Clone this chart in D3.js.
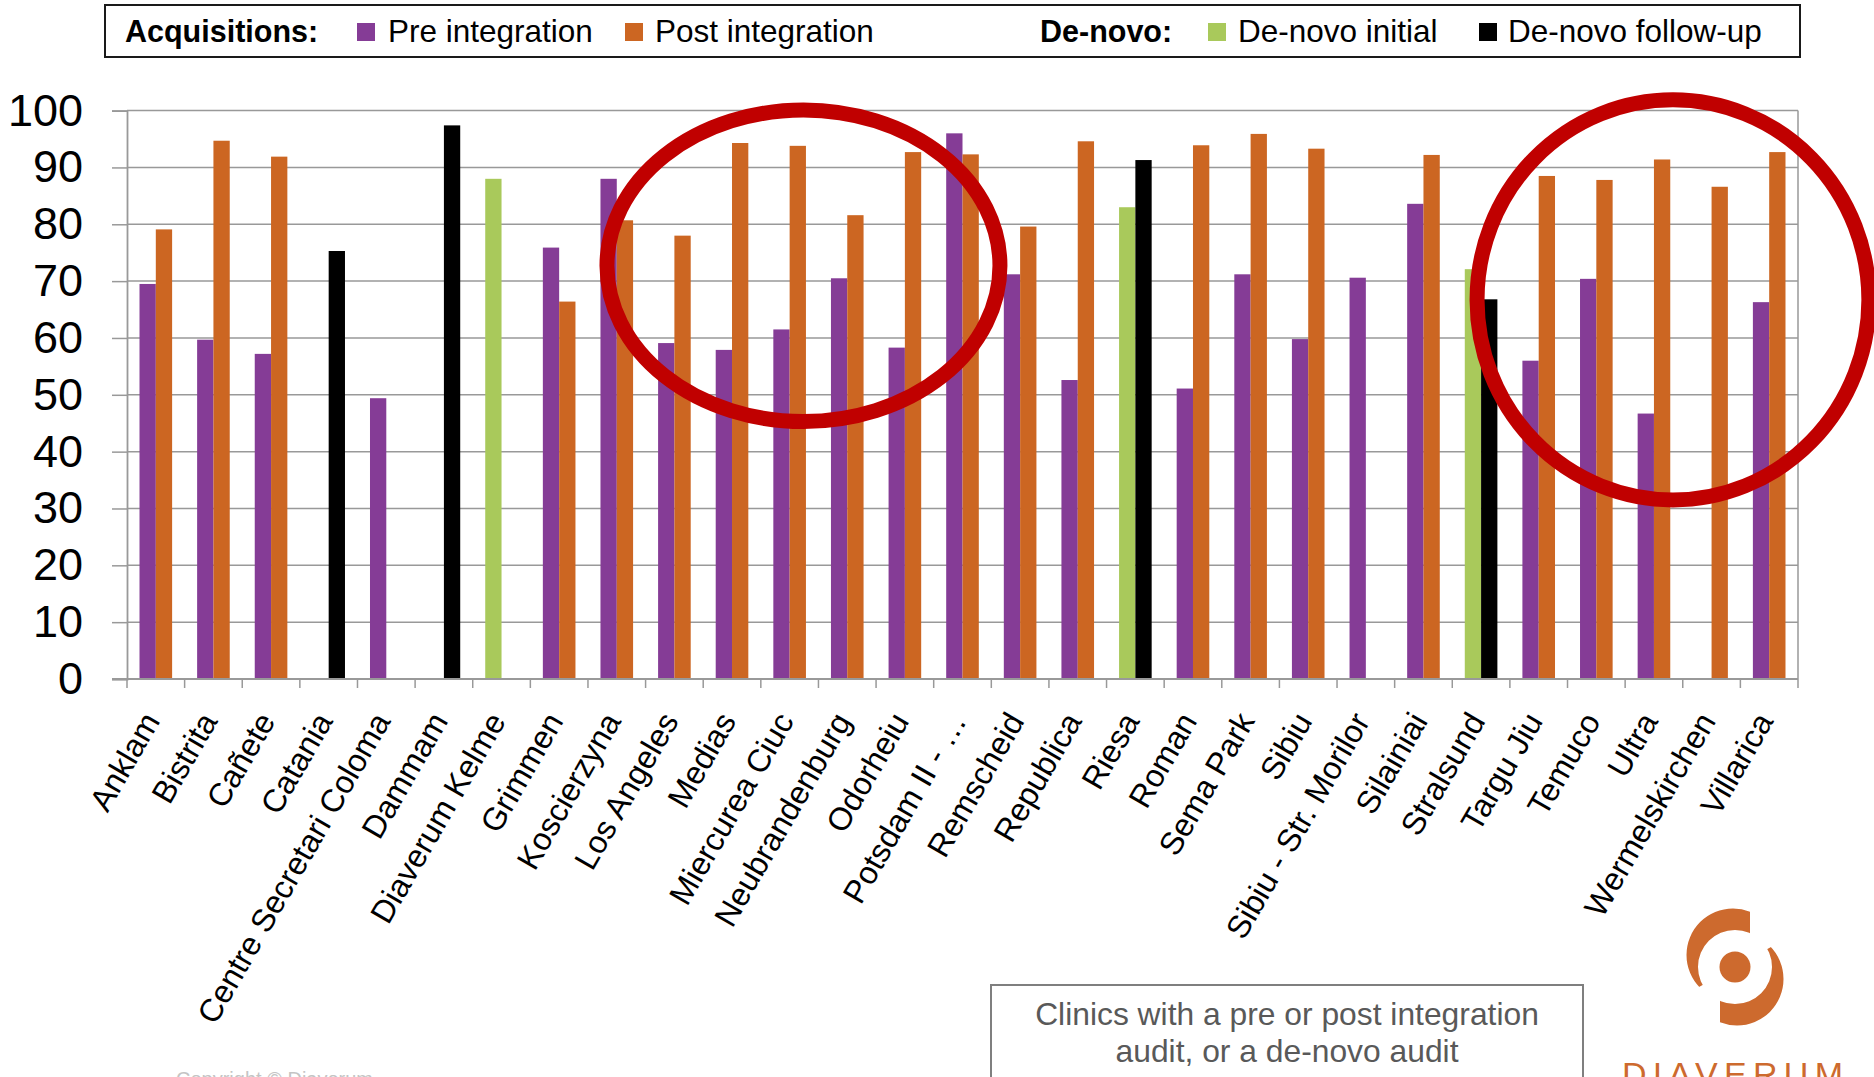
<!DOCTYPE html>
<html>
<head>
<meta charset="utf-8">
<script src="https://cdn.jsdelivr.net/npm/d3@7"></script>
<style>
  html, body { margin: 0; padding: 0; background: #fff; }
  svg { display: block; }
  text { font-family: "Liberation Sans", Arial, "Helvetica", sans-serif; }
</style>
</head>
<body>
<svg id="chart" width="1874" height="1077"></svg>
<script>
// Audit scores per clinic
const categories = [
  "Anklam", "Bistrita", "Cañete", "Catania", "Centre Secretari Coloma", "Dammam",
  "Diaverum Kelme", "Grimmen", "Koscierzyna", "Los Angeles", "Medias", "Miercurea Ciuc",
  "Neubrandenburg", "Odorheiu", "Potsdam II - …", "Remscheid", "Republica", "Riesa",
  "Roman", "Sema Park", "Sibiu", "Sibiu - Str. Morilor", "Silainiai", "Stralsund",
  "Targu Jiu", "Temuco", "Ultra", "Wermelskirchen", "Villarica"
];

const preIntegration = [
  69.5, 59.7, 57.2, null, 49.4, null,
  null, 75.9, 88.0, 59.1, 57.9, 61.5,
  70.5, 58.3, 96.0, 71.2, 52.6, null,
  51.1, 71.2, 59.8, 70.6, 83.6, null,
  56.0, 70.4, 46.7, null, 66.3
];

const postIntegration = [
  79.1, 94.7, 91.9, null, null, null,
  null, 66.4, 80.7, 78.0, 94.3, 93.8,
  81.6, 92.7, 92.3, 79.6, 94.6, null,
  93.9, 95.9, 93.3, null, 92.2, null,
  88.5, 87.8, 91.4, 86.6, 92.7
];

const denovoInitial = [
  null, null, null, null, null, null,
  88.0, null, null, null, null, null,
  null, null, null, null, null, 83.0,
  null, null, null, null, null, 72.1,
  null, null, null, null, null
];

const denovoFollowup = [
  null, null, null, 75.3, null, 97.4,
  null, null, null, null, null, null,
  null, null, null, null, null, 91.3,
  null, null, null, null, null, 66.8,
  null, null, null, null, null
];

const yTicks = [0, 10, 20, 30, 40, 50, 60, 70, 80, 90, 100];

// Highlight rings: centre in category units / score units, radii likewise
const highlightBands = [
  { cx: 11.74, cy: 72.7, rx: 3.41, ry: 27.4 },
  { cx: 26.83, cy: 66.7, rx: 3.40, ry: 35.2 }
];

const series = [
  { key: "Pre integration",   values: preIntegration,  color: "#853C96", slot: "L" },
  { key: "Post integration",  values: postIntegration, color: "#CC6622", slot: "R" },
  { key: "De-novo initial",   values: denovoInitial,   color: "#A9C95B", slot: "L" },
  { key: "De-novo follow-up", values: denovoFollowup,  color: "#000000", slot: "R" }
];

const svg = d3.select("#chart");
const plot = { left: 127, right: 1798, top: 110.6, bottom: 679 };

const x = d3.scaleBand().domain(categories).range([plot.left, plot.right]).padding(0);
const slot = d3.scaleBand().domain(["L", "R"]).range([0, x.bandwidth()])
  .paddingInner(0).paddingOuter(0.767);
const y = d3.scaleLinear().domain([0, 100]).range([plot.bottom, plot.top]);

const gridColor = "#999999";

// Horizontal gridlines
svg.append("g").selectAll("line").data(yTicks).join("line")
  .attr("x1", plot.left).attr("x2", plot.right)
  .attr("y1", d => y(d)).attr("y2", d => y(d))
  .attr("stroke", gridColor).attr("stroke-width", 1.5);

// Plot-area right border
svg.append("line")
  .attr("x1", plot.right).attr("x2", plot.right)
  .attr("y1", y(100)).attr("y2", y(0))
  .attr("stroke", gridColor).attr("stroke-width", 1.5);

// Y axis
const yAxis = svg.append("g")
  .attr("transform", `translate(${plot.left},0)`)
  .call(d3.axisLeft(y).tickValues(yTicks).tickSize(15).tickPadding(29).tickFormat(d3.format("d")));
yAxis.select(".domain").attr("stroke", gridColor).attr("stroke-width", 1.8);
yAxis.selectAll(".tick line").attr("stroke", gridColor).attr("stroke-width", 1.5);
yAxis.selectAll(".tick text")
  .attr("fill", "#000")
  .style("font-size", "45px")
  .style("font-family", '"Liberation Sans", Arial, sans-serif');

// Bars
const barData = [];
series.forEach(s => {
  s.values.forEach((v, i) => {
    if (v != null) barData.push({ cat: categories[i], value: v, color: s.color, slot: s.slot });
  });
});

svg.append("g").selectAll("rect").data(barData).join("rect")
  .attr("x", d => x(d.cat) + slot(d.slot))
  .attr("width", slot.bandwidth())
  .attr("y", d => y(d.value))
  .attr("height", d => y(0) - y(d.value))
  .attr("fill", d => d.color);

// X axis baseline and category boundary ticks
svg.append("line")
  .attr("x1", plot.left - 15).attr("x2", plot.right)
  .attr("y1", y(0)).attr("y2", y(0))
  .attr("stroke", gridColor).attr("stroke-width", 1.8);

const boundaries = categories.map(c => x(c)).concat([plot.right]);
svg.append("g").selectAll("line").data(boundaries).join("line")
  .attr("x1", d => d).attr("x2", d => d)
  .attr("y1", y(0)).attr("y2", y(0) + 9)
  .attr("stroke", gridColor).attr("stroke-width", 1.5);

// Category labels
const xAxis = svg.append("g")
  .attr("transform", `translate(0,${plot.bottom})`)
  .call(d3.axisBottom(x).tickSize(0));
xAxis.select(".domain").remove();
xAxis.selectAll(".tick text")
  .attr("x", 0).attr("y", 0).attr("dy", null)
  .attr("text-anchor", "end")
  .attr("transform", "translate(5,42) rotate(-60)")
  .attr("fill", "#000")
  .style("font-size", "32px")
  .style("font-family", '"Liberation Sans", Arial, sans-serif');

// Highlight rings
const bandPos = u => plot.left + u * x.step();
svg.append("g").selectAll("ellipse").data(highlightBands).join("ellipse")
  .attr("cx", d => bandPos(d.cx))
  .attr("cy", d => y(d.cy))
  .attr("rx", d => d.rx * x.step())
  .attr("ry", d => y(0) - y(d.ry))
  .attr("fill", "none")
  .attr("stroke", "#C00000")
  .attr("stroke-width", 15);

// Legend
const legend = svg.append("g");
legend.append("rect")
  .attr("x", 105).attr("y", 5).attr("width", 1695).attr("height", 52)
  .attr("fill", "#fff").attr("stroke", "#1a1a1a").attr("stroke-width", 2);

const legendGroups = [
  { title: "Acquisitions:", titleX: 125, items: [
      { s: series[0], sx: 357, tx: 388 },
      { s: series[1], sx: 625, tx: 655 } ] },
  { title: "De-novo:", titleX: 1040, items: [
      { s: series[2], sx: 1208, tx: 1238 },
      { s: series[3], sx: 1479, tx: 1508 } ] }
];
const legendBaseline = 42;
legendGroups.forEach(g => {
  legend.append("text")
    .attr("x", g.titleX).attr("y", legendBaseline)
    .attr("font-weight", "bold").attr("font-size", 30.5).attr("fill", "#000")
    .text(g.title);
  g.items.forEach(it => {
    legend.append("rect")
      .attr("x", it.sx).attr("y", legendBaseline - 19).attr("width", 18).attr("height", 18)
      .attr("fill", it.s.color);
    legend.append("text")
      .attr("x", it.tx).attr("y", legendBaseline)
      .attr("font-size", 31.5).attr("fill", "#000")
      .text(it.s.key);
  });
});

// Note box
const note = svg.append("g");
note.append("rect")
  .attr("x", 991).attr("y", 985).attr("width", 592).attr("height", 140)
  .attr("fill", "#fff").attr("stroke", "#7f7f7f").attr("stroke-width", 2);
note.append("text")
  .attr("x", 1287).attr("y", 1025).attr("text-anchor", "middle")
  .attr("font-size", 31.8).attr("fill", "#595959")
  .text("Clinics with a pre or post integration");
note.append("text")
  .attr("x", 1287).attr("y", 1062).attr("text-anchor", "middle")
  .attr("font-size", 31.8).attr("fill", "#595959")
  .text("audit, or a de-novo audit");

// Footer copyright
svg.append("text")
  .attr("x", 176).attr("y", 1086)
  .attr("font-size", 20).attr("fill", "#c4c4c4")
  .text("Copyright © Diaverum");

// Brand mark
const brand = "#CD6A2E";
const logo = svg.append("g");
const cx0 = 1735, cy0 = 967;
const defs = svg.append("defs");
defs.append("clipPath").attr("id", "logoClip")
  .append("polygon")
  .attr("points", `${cx0 + 15},860 ${cx0 + 15},${cy0} ${cx0},${cy0} ${cx0 - 108},${cy0 + 60} ${cx0 - 140},${cy0 + 60} ${cx0 - 140},860`);

function crescent(g) {
  const outer = { x: cx0 - 2, y: cy0 - 12, r: 46.5 };
  const inner = { x: cx0, y: cy0, r: 37 };
  const circ = c => `M${c.x - c.r},${c.y}a${c.r},${c.r} 0 1,0 ${2 * c.r},0a${c.r},${c.r} 0 1,0 ${-2 * c.r},0Z`;
  g.append("path")
    .attr("d", circ(outer) + circ(inner))
    .attr("fill-rule", "evenodd")
    .attr("fill", brand)
    .attr("clip-path", "url(#logoClip)");
}
crescent(logo.append("g"));
crescent(logo.append("g").attr("transform", `rotate(180,${cx0},${cy0})`));
logo.append("circle").attr("cx", cx0).attr("cy", cy0).attr("r", 15.5).attr("fill", brand);
logo.append("text")
  .attr("x", 1622).attr("y", 1086)
  .attr("font-size", 34).attr("letter-spacing", 6.3)
  .attr("font-weight", 300)
  .attr("fill", brand)
  .text("DIAVERUM");
</script>
</body>
</html>
